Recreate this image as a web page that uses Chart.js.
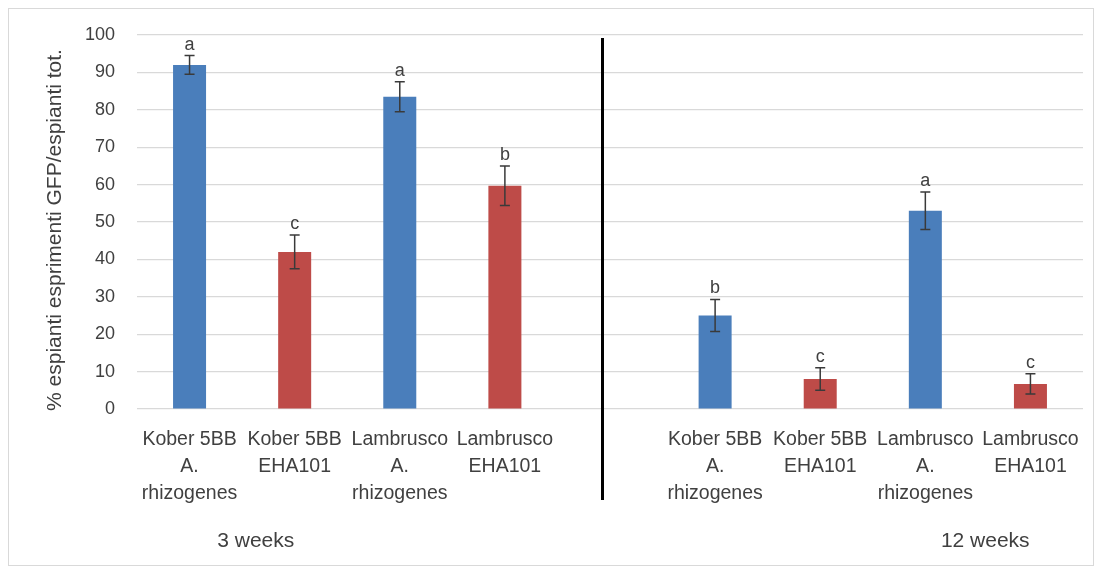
<!DOCTYPE html>
<html>
<head>
<meta charset="utf-8">
<script src="https://cdn.jsdelivr.net/npm/chart.js@4/dist/chart.umd.min.js"></script>
<style>
    html, body { margin: 0; padding: 0; background: #fff; }
    #wrap { width: 1102px; height: 571px; position: relative; }
</style>
</head>
<body>
<div id="wrap"><canvas id="gfpChart"></canvas></div>
<script>
// 3 weeks group, an empty gap slot, then the 12 weeks group
const categories = [
    ['Kober 5BB', 'A.', 'rhizogenes'],
    ['Kober 5BB', 'EHA101'],
    ['Lambrusco', 'A.', 'rhizogenes'],
    ['Lambrusco', 'EHA101'],
    '',
    ['Kober 5BB', 'A.', 'rhizogenes'],
    ['Kober 5BB', 'EHA101'],
    ['Lambrusco', 'A.', 'rhizogenes'],
    ['Lambrusco', 'EHA101']
];
const strains = ['rhizo', 'eha', 'rhizo', 'eha', null, 'rhizo', 'eha', 'rhizo', 'eha'];
const percentGFP = [92, 42, 83.5, 59.7, null, 25, 8, 53, 6.7];
const stdErr = [2.5, 4.5, 4, 5.3, null, 4.3, 3, 5, 2.7];
const letters = ['a', 'c', 'a', 'b', '', 'b', 'c', 'a', 'c'];
const groupNames = ['3 weeks', '12 weeks'];
const groupPos = [0.63, 7.57];
const yTicks = [0, 10, 20, 30, 40, 50, 60, 70, 80, 90, 100];
const yTitle = '% espianti esprimenti GFP/espianti tot.';

const strainColors = { rhizo: '#4a7ebb', eha: '#be4b48' };
const textColor = '#404040';
const labelFont = '"Liberation Sans", Arial, sans-serif';

// frame, axis title, error bars, significance letters, separator and group names
const extrasPlugin = {
    id: 'extras',
    beforeDraw(chart) {
        const ctx = chart.ctx;
        const area = chart.chartArea;
        ctx.save();
        ctx.strokeStyle = '#d9d9d9';
        ctx.lineWidth = 1;
        ctx.strokeRect(8.5, 8.5, chart.width - 17, chart.height - 14);

        ctx.translate(55, (area.top + area.bottom) / 2 + 8);
        ctx.rotate(-Math.PI / 2);
        ctx.fillStyle = textColor;
        ctx.font = '21px ' + labelFont;
        ctx.textAlign = 'center';
        ctx.textBaseline = 'middle';
        ctx.fillText(yTitle, 0, 0);
        ctx.restore();
    },
    afterDatasetsDraw(chart) {
        const ctx = chart.ctx;
        const x = chart.scales.x;
        const y = chart.scales.y;
        const area = chart.chartArea;
        ctx.save();

        percentGFP.forEach((v, i) => {
            if (v === null) return;
            const px = x.getPixelForValue(i);
            const top = y.getPixelForValue(v + stdErr[i]);
            const bot = y.getPixelForValue(v - stdErr[i]);
            ctx.strokeStyle = '#3a3a3a';
            ctx.lineWidth = 1.5;
            ctx.beginPath();
            ctx.moveTo(px, top);
            ctx.lineTo(px, bot);
            ctx.moveTo(px - 5, top);
            ctx.lineTo(px + 5, top);
            ctx.moveTo(px - 5, bot);
            ctx.lineTo(px + 5, bot);
            ctx.stroke();

            ctx.fillStyle = textColor;
            ctx.font = '18px ' + labelFont;
            ctx.textAlign = 'center';
            ctx.textBaseline = 'alphabetic';
            ctx.fillText(letters[i], px, top - 6);
        });

        // vertical separator between the two time points
        const sx = Math.round(x.getPixelForValue(3.92)) + 0.5;
        ctx.strokeStyle = '#000';
        ctx.lineWidth = 3;
        ctx.beginPath();
        ctx.moveTo(sx, area.top + 3);
        ctx.lineTo(sx, area.bottom + 91);
        ctx.stroke();

        ctx.fillStyle = textColor;
        ctx.font = '21px ' + labelFont;
        ctx.textAlign = 'center';
        ctx.textBaseline = 'middle';
        groupNames.forEach((name, i) => {
            ctx.fillText(name, x.getPixelForValue(groupPos[i]), area.bottom + 132);
        });
        ctx.restore();
    }
};

new Chart(document.getElementById('gfpChart'), {
    type: 'bar',
    data: {
        labels: categories,
        datasets: [{
            data: percentGFP,
            backgroundColor: strains.map(s => s ? strainColors[s] : 'transparent'),
            borderWidth: 0,
            barPercentage: 0.314,
            categoryPercentage: 1
        }]
    },
    options: {
        responsive: true,
        maintainAspectRatio: false,
        animation: false,
        layout: { padding: { left: 40, right: 19, top: 35, bottom: 0 } },
        plugins: {
            legend: { display: false },
            tooltip: { enabled: false }
        },
        scales: {
            x: {
                grid: { display: false, drawTicks: false },
                border: { display: false },
                ticks: {
                    autoSkip: false,
                    maxRotation: 0,
                    minRotation: 0,
                    padding: 17,
                    color: textColor,
                    font: { family: labelFont, size: 19.5, lineHeight: 1.38 }
                },
                afterFit(scale) { scale.height = 162; }
            },
            y: {
                min: 0,
                max: 100,
                afterBuildTicks(scale) { scale.ticks = yTicks.map(v => ({ value: v })); },
                grid: { color: '#d9d9d9', lineWidth: 1.2, drawTicks: false },
                border: { display: false },
                ticks: {
                    padding: 22,
                    color: textColor,
                    font: { family: labelFont, size: 18 }
                },
                afterFit(scale) { scale.width = 97; }
            }
        }
    },
    plugins: [extrasPlugin]
});
</script>
</body>
</html>
